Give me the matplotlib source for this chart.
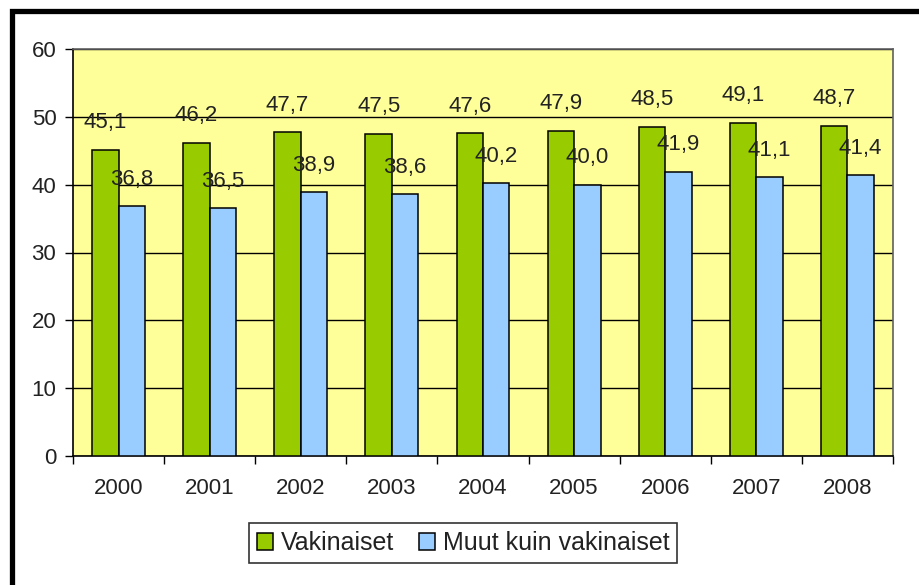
import matplotlib
matplotlib.use("Agg")
import matplotlib.pyplot as plt
from matplotlib.patches import Rectangle
import numpy as np

plt.rcParams['font.family'] = ['Liberation Sans', 'DejaVu Sans']

years = ["2000", "2001", "2002", "2003", "2004", "2005", "2006", "2007", "2008"]
vakinaiset = [45.1, 46.2, 47.7, 47.5, 47.6, 47.9, 48.5, 49.1, 48.7]
muut = [36.8, 36.5, 38.9, 38.6, 40.2, 40.0, 41.9, 41.1, 41.4]
series_names = ["Vakinaiset", "Muut kuin vakinaiset"]

W, H = 919, 585
fig = plt.figure(figsize=(W / 100, H / 100), dpi=100)
fig.patch.set_facecolor("white")

# outer frame (cropped at right and bottom)
fig.patches.append(Rectangle((12 / W, -0.1), 1.2, 1 - 11 / H + 0.1,
                             transform=fig.transFigure, fill=False,
                             edgecolor="black", linewidth=3.8))

ax = fig.add_axes([73 / W, 1 - 456 / H, (893 - 73) / W, (456 - 49) / H])
ax.set_facecolor("#FFFF99")

x = np.arange(len(years))
w = 0.29
green = "#99CC00"
blue = "#99CCFF"
b1 = ax.bar(x - w / 2, vakinaiset, w, color=green, edgecolor="black", linewidth=1.1, zorder=3, label=series_names[0])
b2 = ax.bar(x + w / 2, muut, w, color=blue, edgecolor="black", linewidth=1.1, zorder=3, label=series_names[1])

fs = 16
tc = "#222222"
for bars, vals in ((b1, vakinaiset), (b2, muut)):
    for r, v in zip(bars, vals):
        ax.annotate(f"{v:.1f}".replace(".", ","),
                    (r.get_x() + r.get_width() / 2, v),
                    xytext=(0, 19.5), textcoords="offset points",
                    ha="center", va="center", fontsize=fs, color=tc, zorder=5)

ax.set_xlim(-0.5, len(years) - 0.5)
ax.set_ylim(0, 60)
ax.set_yticks(range(0, 61, 10))
ax.yaxis.grid(True, color="black", linewidth=1.0, zorder=1)
ax.set_axisbelow(True)

ax.set_xticks(np.arange(-0.5, len(years), 1.0))
ax.set_xticklabels([])
ax.set_xticks(x, minor=True)
ax.set_xticklabels(years, minor=True)
ax.tick_params(axis="x", which="major", length=6, width=1, color="black", direction="out")
ax.tick_params(axis="x", which="minor", length=0, pad=16, labelsize=fs, labelcolor=tc)
ax.tick_params(axis="y", length=6, width=1, color="black", direction="out", pad=6, labelsize=fs, labelcolor=tc)

for s in ("left", "bottom"):
    ax.spines[s].set_color("black")
    ax.spines[s].set_linewidth(1.2)
for s in ("top", "right"):
    ax.spines[s].set_color("#606060")
    ax.spines[s].set_linewidth(1.2)

leg = fig.legend(handles=[b1, b2], loc="center", bbox_to_anchor=(463 / W, 1 - 543 / H),
                 ncol=2, fontsize=18, frameon=True, fancybox=False, edgecolor="black",
                 handlelength=0.65, handleheight=0.65, handletextpad=0.3, columnspacing=1.0,
                 borderpad=0.33, borderaxespad=0)
leg.get_frame().set_linewidth(1.2)
for t in leg.get_texts():
    t.set_color(tc)

fig.savefig("out.png", dpi=100, facecolor="white")
